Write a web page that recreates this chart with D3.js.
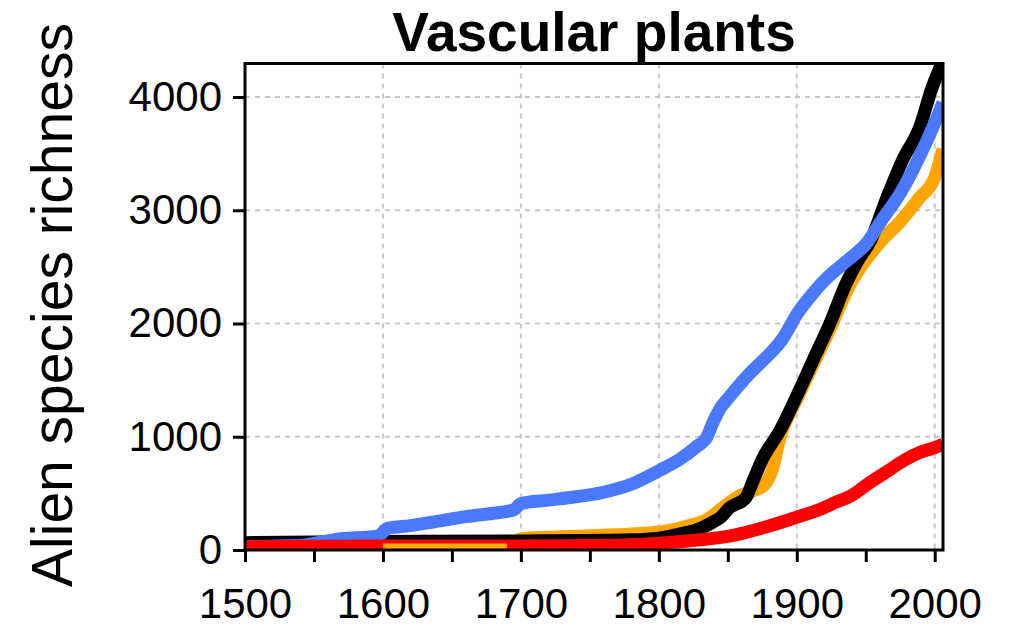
<!DOCTYPE html>
<html>
<head>
<meta charset="utf-8">
<script src="https://cdn.jsdelivr.net/npm/d3@7"></script>
<style>
  body { margin: 0; background: #fff; }
  text { font-family: "Liberation Sans", Arial, sans-serif; fill: #000; }
</style>
</head>
<body>
<svg id="chart" width="1014" height="627"></svg>
<script>
// years and cumulative alien species counts
const blueYears = [1500, 1540, 1555, 1570, 1590, 1597, 1603, 1620, 1640, 1660, 1680, 1695, 1700, 1720, 1740, 1760, 1780, 1800, 1815, 1827, 1835, 1839, 1845, 1851, 1866, 1876, 1890, 1900, 1912, 1920, 1938, 1950, 1962, 1975, 1988, 2000, 2006];
const blueValues = [30, 40, 70, 100, 115, 125, 190, 215, 255, 295, 325, 355, 410, 440, 470, 510, 580, 700, 800, 910, 1000, 1120, 1260, 1350, 1560, 1680, 1870, 2080, 2270, 2380, 2570, 2700, 2920, 3150, 3450, 3770, 3950];

const blackYears = [1500, 1600, 1700, 1780, 1800, 1815, 1830, 1839, 1845, 1851, 1863, 1868, 1875, 1888, 1900, 1912, 1924, 1936, 1945, 1953, 1965, 1977, 1989, 1998, 2006];
const blackValues = [65, 75, 80, 90, 105, 140, 190, 245, 290, 370, 460, 600, 800, 1060, 1360, 1680, 2000, 2360, 2570, 2720, 3100, 3450, 3730, 4080, 4320];

const orangeYears = [1600, 1690, 1700, 1750, 1800, 1820, 1835, 1849, 1859, 1868, 1876, 1882, 1888, 1900, 1912, 1924, 1938, 1950, 1962, 1975, 1989, 2000, 2006];
const orangeValues = [0, 0, 100, 125, 160, 210, 270, 400, 480, 520, 570, 700, 1000, 1330, 1640, 1950, 2330, 2560, 2740, 2900, 3110, 3290, 3540];

const redYears = [1500, 1600, 1690, 1760, 1800, 1830, 1854, 1878, 1900, 1917, 1926, 1941, 1950, 1965, 1975, 1989, 1999, 2006];
const redValues = [28, 35, 35, 40, 60, 90, 130, 205, 290, 360, 410, 490, 570, 690, 770, 860, 900, 935];

const xTicks = [1500, 1550, 1600, 1650, 1700, 1750, 1800, 1850, 1900, 1950, 2000];
const xLabels = [1500, 1600, 1700, 1800, 1900, 2000];
const yTicks = [0, 1000, 2000, 3000, 4000];

const toPoints = (years, values) => years.map((yr, i) => [yr, values[i]]);
const orangePts = toPoints(orangeYears, orangeValues);

// draw order: orange, black, blue, red; the early flat part of orange sits over red
const series = [
  { pts: orangePts, color: "#FFA500" },
  { pts: toPoints(blackYears, blackValues), color: "#000000" },
  { pts: toPoints(blueYears, blueValues), color: "#4A78FF" },
  { pts: toPoints(redYears, redValues), color: "#FF0000" },
  { pts: orangePts.filter(d => d[0] <= 1690), color: "#FFA500" }
];

const svg = d3.select("#chart");
const plotLeft = 245, plotRight = 943, plotTop = 63.5, plotBottom = 550;

const x = d3.scaleLinear().domain([1500, 2006]).range([plotLeft, plotRight]);
const y = d3.scaleLinear().domain([0, 4296]).range([plotBottom, plotTop]);

svg.append("defs").append("clipPath").attr("id", "plotClip")
  .append("rect")
  .attr("x", plotLeft).attr("y", plotTop)
  .attr("width", plotRight - plotLeft).attr("height", plotBottom - plotTop);

// dashed grid
const grid = svg.append("g");
grid.selectAll(".vg")
  .data(xLabels.slice(1))
  .enter().append("line")
  .attr("x1", d => x(d)).attr("x2", d => x(d))
  .attr("y1", plotTop).attr("y2", plotBottom)
  .attr("stroke", "#c8c8c8").attr("stroke-width", 2)
  .attr("stroke-dasharray", "5,5");
grid.selectAll(".hg")
  .data(yTicks.slice(1))
  .enter().append("line")
  .attr("x1", plotLeft).attr("x2", plotRight)
  .attr("y1", d => y(d)).attr("y2", d => y(d))
  .attr("stroke", "#c8c8c8").attr("stroke-width", 2)
  .attr("stroke-dasharray", "5,5");

// series lines
const line = d3.line()
  .x(d => x(d[0]))
  .y(d => y(d[1]))
  .curve(d3.curveMonotoneX);

svg.append("g")
  .attr("clip-path", "url(#plotClip)")
  .selectAll("path")
  .data(series)
  .enter().append("path")
  .attr("d", s => line(s.pts))
  .attr("fill", "none")
  .attr("stroke", s => s.color)
  .attr("stroke-width", 13)
  .attr("stroke-linejoin", "round")
  .attr("stroke-linecap", "butt");

// frame
svg.append("rect")
  .attr("x", plotLeft).attr("y", plotTop)
  .attr("width", plotRight - plotLeft).attr("height", plotBottom - plotTop)
  .attr("fill", "none").attr("stroke", "#000").attr("stroke-width", 3);

// x axis
const xAxis = svg.append("g")
  .attr("transform", `translate(0,${plotBottom})`)
  .call(d3.axisBottom(x).tickValues(xTicks).tickSize(12).tickPadding(26)
    .tickFormat(d => xLabels.includes(d) ? d : ""));
xAxis.select(".domain").remove();
xAxis.selectAll(".tick line").attr("stroke", "#000").attr("stroke-width", 3);
xAxis.selectAll(".tick text")
  .style("font-size", "42px")
  .style("font-family", "'Liberation Sans', Arial, sans-serif")
  .attr("fill", "#000");

// y axis
const yAxis = svg.append("g")
  .attr("transform", `translate(${plotLeft},0)`)
  .call(d3.axisLeft(y).tickValues(yTicks).tickSize(12).tickPadding(11)
    .tickFormat(d3.format("d")));
yAxis.select(".domain").remove();
yAxis.selectAll(".tick line").attr("stroke", "#000").attr("stroke-width", 3);
yAxis.selectAll(".tick text")
  .style("font-size", "42px")
  .style("font-family", "'Liberation Sans', Arial, sans-serif")
  .attr("fill", "#000");

// title
svg.append("text")
  .attr("x", (plotLeft + plotRight) / 2)
  .attr("y", 51)
  .attr("text-anchor", "middle")
  .style("font-size", "55px")
  .style("font-weight", "bold")
  .text("Vascular plants");

// y axis title
svg.append("text")
  .attr("transform", "translate(72,305) rotate(-90)")
  .attr("text-anchor", "middle")
  .style("font-size", "57px")
  .text("Alien species richness");
</script>
</body>
</html>
